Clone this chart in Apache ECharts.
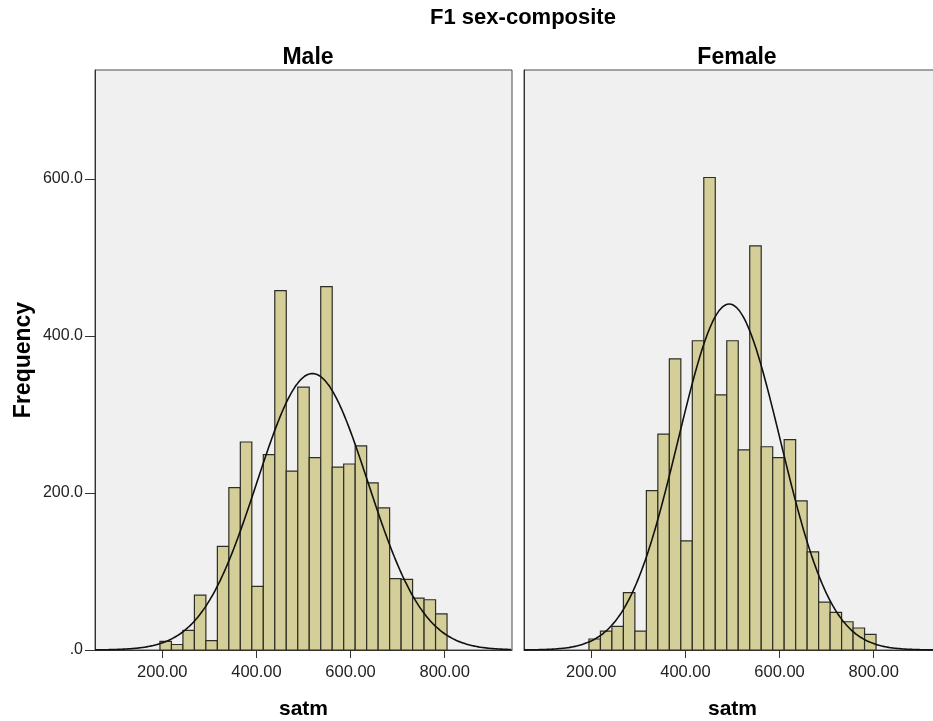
<!DOCTYPE html>
<html>
<head>
<meta charset="utf-8">
<script src="https://cdn.jsdelivr.net/npm/echarts@6/dist/echarts.min.js"></script>
<style>
  html, body { margin: 0; padding: 0; background: #ffffff; }
  #chart { width: 933px; height: 721px; }
</style>
</head>
<body>
<div id="chart"></div>
<script>
// bin edges (satm), 25 bins
const binEdges = [195, 219.4, 243.8, 268.2, 292.6, 317, 341.4, 365.8, 390.2, 414.6, 439, 463.4, 487.8,
  512.2, 536.6, 561, 585.4, 609.8, 634.2, 658.6, 683, 707.4, 731.8, 756.2, 780.6, 805];

const maleCounts = [11, 7, 25, 70, 12, 132, 207, 265, 81, 249, 458, 228, 335,
  245, 463, 233, 237, 260, 213, 181, 91, 90, 66, 64, 46];
const femaleCounts = [14, 24, 30, 73, 24, 203, 275, 371, 139, 394, 602, 325, 394,
  255, 515, 259, 245, 268, 190, 125, 61, 48, 36, 28, 20];

// normal curve parameters
const maleMean = 519, maleSd = 118;
const femaleMean = 493, femaleSd = 108.6;

const xTicks = [200, 400, 600, 800];
const yTicks = [0, 200, 400, 600];
const panels = ['Male', 'Female'];

const font = '"Liberation Sans", Arial, sans-serif';
const xMin = 57, xMax = 943, yMax = 739;

function binData(counts) {
  return counts.map((c, i) => [binEdges[i], binEdges[i + 1], c]);
}

function normalCurve(counts, mean, sd) {
  const n = counts.reduce((a, b) => a + b, 0);
  const w = binEdges[1] - binEdges[0];
  const pts = [];
  for (let x = xMin; x <= xMax; x += 4) {
    const z = (x - mean) / sd;
    pts.push([x, n * w * Math.exp(-0.5 * z * z) / (sd * Math.sqrt(2 * Math.PI))]);
  }
  return pts;
}

function renderBar(params, api) {
  const p0 = api.coord([api.value(0), api.value(2)]);
  const p1 = api.coord([api.value(1), 0]);
  return {
    type: 'rect',
    shape: { x: p0[0], y: p0[1], width: p1[0] - p0[0], height: p1[1] - p0[1] },
    style: { fill: '#d4cf98', stroke: '#2e2e26', lineWidth: 1.2 }
  };
}

const chart = echarts.init(document.getElementById('chart'), null, { renderer: 'canvas' });

const grids = [
  { left: 95, top: 70, width: 417, height: 580 },
  { left: 524, top: 70, width: 417, height: 580 }
].map(g => Object.assign(g, {
  show: true, backgroundColor: '#f0f0f0', borderColor: '#4a4a4a', borderWidth: 1,
  containLabel: false, outerBoundsMode: 'none'
}));

const xAxes = panels.map((p, i) => ({
  type: 'value', gridIndex: i, min: xMin, max: xMax,
  name: 'satm', nameLocation: 'middle', nameGap: 49,
  nameTextStyle: { fontFamily: font, fontWeight: 'bold', fontSize: 21, color: '#000' },
  axisLine: { show: true, lineStyle: { color: '#333', width: 1 } },
  axisTick: { show: true, customValues: xTicks, length: 8, lineStyle: { color: '#333' } },
  axisLabel: { customValues: xTicks, formatter: v => v.toFixed(2), fontFamily: font, fontSize: 16.5, color: '#222', margin: 14 },
  splitLine: { show: false }
}));

const yAxes = panels.map((p, i) => ({
  type: 'value', gridIndex: i, min: 0, max: yMax,
  name: i === 0 ? 'Frequency' : '', nameLocation: 'middle', nameGap: 60,
  nameTextStyle: { fontFamily: font, fontWeight: 'bold', fontSize: 23, color: '#000' },
  axisLine: { show: true, lineStyle: { color: '#333', width: 1 } },
  axisTick: { show: i === 0, customValues: yTicks, length: 10, lineStyle: { color: '#333' } },
  axisLabel: {
    show: i === 0, customValues: yTicks,
    formatter: v => v === 0 ? '.0' : v.toFixed(1),
    fontFamily: font, fontSize: 16, color: '#222', margin: 12
  },
  splitLine: { show: false }
}));

const option = {
  animation: false,
  backgroundColor: '#ffffff',
  title: [
    { text: 'F1 sex-composite', left: 518, top: 2, textAlign: 'center',
      textStyle: { fontFamily: font, fontWeight: 'bold', fontSize: 22, color: '#000' } },
    { text: 'Male', left: 303, top: 41, textAlign: 'center',
      textStyle: { fontFamily: font, fontWeight: 'bold', fontSize: 23, color: '#000' } },
    { text: 'Female', left: 732, top: 41, textAlign: 'center',
      textStyle: { fontFamily: font, fontWeight: 'bold', fontSize: 23, color: '#000' } }
  ],
  grid: grids,
  xAxis: xAxes,
  yAxis: yAxes,
  series: [
    { type: 'custom', xAxisIndex: 0, yAxisIndex: 0, renderItem: renderBar, data: binData(maleCounts), encode: { x: [0, 1], y: 2 } },
    { type: 'custom', xAxisIndex: 1, yAxisIndex: 1, renderItem: renderBar, data: binData(femaleCounts), encode: { x: [0, 1], y: 2 } },
    { type: 'line', xAxisIndex: 0, yAxisIndex: 0, data: normalCurve(maleCounts, maleMean, maleSd),
      showSymbol: false, smooth: true, lineStyle: { color: '#111', width: 1.6 }, z: 5 },
    { type: 'line', xAxisIndex: 1, yAxisIndex: 1, data: normalCurve(femaleCounts, femaleMean, femaleSd),
      showSymbol: false, smooth: true, lineStyle: { color: '#111', width: 1.6 }, z: 5 }
  ]
};

chart.setOption(option);
</script>
</body>
</html>
